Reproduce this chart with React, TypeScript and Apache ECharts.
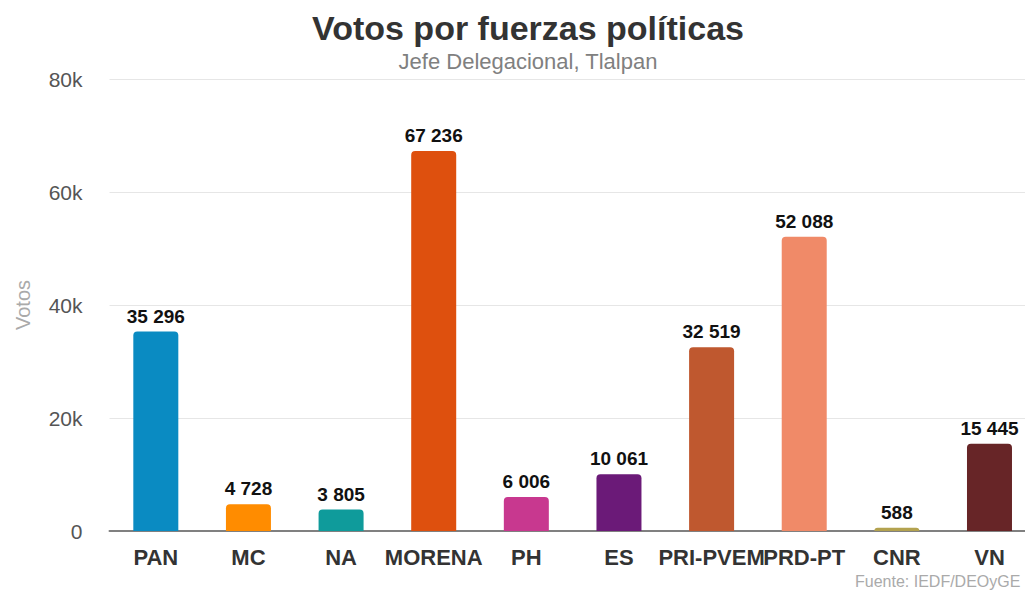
import React, { useEffect, useRef } from "react";
import * as echarts from "echarts";

const categories = ["PAN", "MC", "NA", "MORENA", "PH", "ES", "PRI-PVEM", "PRD-PT", "CNR", "VN"];
const votes = [35296, 4728, 3805, 67236, 6006, 10061, 32519, 52088, 588, 15445];
const colors = ["#0a8bc2", "#ff8c00", "#0f9b9b", "#de500e", "#c8388f", "#6b1a78", "#bf582f", "#f08a68", "#b3a24f", "#672527"];
const yTicks = [0, 20000, 40000, 60000, 80000];

const fmt = (v: number) => String(v).replace(/\B(?=(\d{3})+(?!\d))/g, " ");

export default function App() {
  const ref = useRef<HTMLDivElement>(null);
  useEffect(() => {
    if (!ref.current) return;
    const chart = echarts.init(ref.current, null, { renderer: "svg" });
    chart.setOption({
      animation: false,
      textStyle: { fontFamily: "Liberation Sans, Arial, sans-serif" },
      title: {
        text: "Votos por fuerzas políticas",
        subtext: "Jefe Delegacional, Tlalpan",
        left: 523,
        textAlign: "center",
        top: 4,
        itemGap: 3,
        textStyle: { fontSize: 34, lineHeight: 38, fontWeight: "bold", color: "#333333", fontFamily: "Liberation Sans, Arial, sans-serif" },
        subtextStyle: { fontSize: 22, lineHeight: 22, color: "#808080", fontFamily: "Liberation Sans, Arial, sans-serif" },
      },
      graphic: [
        {
          type: "text",
          left: 855,
          top: 573,
          style: { text: "Fuente: IEDF/DEOyGE", fontSize: 16, fill: "#aaaaaa", fontFamily: "Liberation Sans, Arial, sans-serif" },
        },
      ],
      grid: { left: 109.5, width: 926.3, top: 79, height: 452, containLabel: false, outerBoundsMode: "none" },
      xAxis: {
        type: "category",
        data: categories,
        axisTick: { show: false },
        axisLine: { lineStyle: { color: "#808080", width: 2 } },
        axisLabel: { fontSize: 22, fontWeight: "bold", color: "#333333", margin: 15, interval: 0 },
      },
      yAxis: {
        type: "value",
        min: yTicks[0],
        max: yTicks[yTicks.length - 1],
        interval: 20000,
        name: "Votos",
        nameLocation: "middle",
        nameGap: 77,
        nameTextStyle: { fontSize: 20, color: "#aaaaaa" },
        axisLabel: {
          fontSize: 21,
          color: "#555555",
          margin: 27,
          formatter: (v: number) => (v === 0 ? "0" : v / 1000 + "k"),
        },
        splitLine: { lineStyle: { color: "#e6e6e6", width: 1 } },
      },
      series: [
        {
          type: "bar",
          barWidth: 45,
          data: votes.map((v, i) => ({ value: v, itemStyle: { color: colors[i], borderRadius: [4, 4, 0, 0] } })),
          label: {
            show: true,
            position: "top",
            distance: 6,
            fontSize: 19,
            fontWeight: "bold",
            color: "#111111",
            formatter: (p: any) => fmt(p.value),
          },
        },
      ],
    });
    return () => chart.dispose();
  }, []);
  return <div ref={ref} style={{ width: 1025, height: 590, position: "absolute", left: 0, top: 0 }} />;
}
